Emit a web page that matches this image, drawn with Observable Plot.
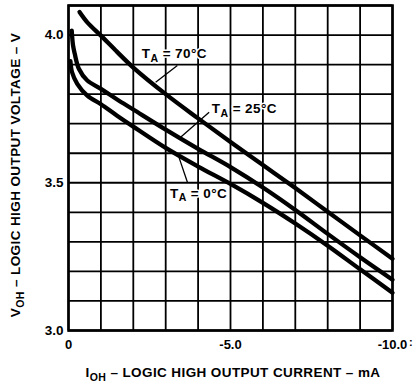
<!DOCTYPE html>
<html><head><meta charset="utf-8">
<script src="https://cdn.jsdelivr.net/npm/d3@7"></script>
<script src="https://cdn.jsdelivr.net/npm/@observablehq/plot@0.6"></script>
<style>
html,body{margin:0;padding:0;background:#fff;}
#chart svg{display:block;}
</style>
</head><body><div id="chart"></div>
<script>
// ---- data (I_OH in mA, V_OH in V) ----
const current70 = [-0.34, -0.58, -1, -1.5, -2, -3, -4, -5, -6, -7, -8, -9, -10];
const voltage70 = [4.078, 4.043, 3.998, 3.943, 3.89, 3.80, 3.718, 3.638, 3.560, 3.482, 3.402, 3.322, 3.243];
const current25 = [-0.1, -0.14, -0.19, -0.32, -0.58, -1, -1.5, -2, -3, -4, -5, -6, -7, -8, -9, -10];
const voltage25 = [4.015, 3.965, 3.938, 3.886, 3.846, 3.818, 3.782, 3.748, 3.68, 3.615, 3.553, 3.484, 3.408, 3.327, 3.248, 3.172];
const current0 = [-0.06, -0.11, -0.27, -0.58, -1, -1.5, -2, -3, -4, -5, -6, -7, -8, -9, -10];
const voltage0 = [3.912, 3.874, 3.835, 3.795, 3.766, 3.727, 3.69, 3.618, 3.555, 3.496, 3.432, 3.362, 3.287, 3.207, 3.128];
const seriesNames = ["70°C", "25°C", "0°C"];

const xTicks = [0, -5, -10];
const xTickLabels = ["0", "-5.0", "-10.0"];
const yTicks = [3.0, 3.5, 4.0];
const yTickLabels = ["3.0", "3.5", "4.0"];
const xGrid = [0, -1, -2, -3, -4, -5, -6, -7, -8, -9, -10];
const yGrid = [3.0, 3.1, 3.2, 3.3, 3.4, 3.5, 3.6, 3.7, 3.8, 3.9, 4.0, 4.1];

// annotation anchors (data units) and leader lines
const labelAnchors = [[-2.28, 3.919], [-4.44, 3.733], [-3.15, 3.448]];
const leaderLines = [
  [-2.69, 3.840, -3.36, 3.897],
  [-3.46, 3.654, -4.34, 3.739],
  [-3.41, 3.586, -3.67, 3.502]
];

// ---- build table ----
const rows = [];
[[current70, voltage70], [current25, voltage25], [current0, voltage0]].forEach(([cs, vs], k) => {
  cs.forEach((c, i) => rows.push({series: seriesNames[k], current: c, voltage: vs[i]}));
});
const links = leaderLines.map(([x1, y1, x2, y2]) => ({x1, y1, x2, y2}));

const FONT = "'Liberation Sans', Arial, Helvetica, sans-serif";

const chart = Plot.plot({
  width: 416,
  height: 385,
  marginLeft: 68,
  marginRight: 24,
  marginTop: 5,
  marginBottom: 55,
  style: {fontFamily: FONT, fontWeight: "bold", fontSize: "13px", color: "#000", background: "#fff"},
  x: {domain: [0, -10]},
  y: {domain: [3.0, 4.1]},
  marks: [
    Plot.ruleX(xGrid, {stroke: "#000", strokeWidth: 1.8}),
    Plot.ruleY(yGrid, {stroke: "#000", strokeWidth: 1.8}),
    Plot.frame({stroke: "#000", strokeWidth: 2.6}),
    Plot.axisX(xTicks, {tickSize: 0, tickPadding: 9, tickFormat: d => xTickLabels[xTicks.indexOf(d)], fontSize: 13, fontWeight: "bold", label: null}),
    Plot.axisY(yTicks, {tickSize: 0, tickPadding: 5, tickFormat: d => yTickLabels[yTicks.indexOf(d)], fontSize: 13.5, fontWeight: "bold", label: null}),
    Plot.line(rows, {x: "current", y: "voltage", z: "series", stroke: "#000", strokeWidth: 4.3, curve: "catmull-rom", strokeLinejoin: "round"}),
    Plot.link(links, {x1: "x1", y1: "y1", x2: "x2", y2: "y2", stroke: "#000", strokeWidth: 1.3})
  ]
});

document.getElementById("chart").appendChild(chart);

// ---- text with subscripts, positioned through the chart scales ----
const svg = d3.select(chart);
const sx = chart.scale("x"), sy = chart.scale("y");

function subText(g, main, sub, rest, size, spacing) {
  const t = g.append("text").attr("font-family", FONT).attr("font-weight", "bold")
    .attr("font-size", size).attr("fill", "#000").attr("text-anchor", "start")
    .style("letter-spacing", spacing + "px");
  t.append("tspan").text(main);
  t.append("tspan").attr("dy", size * 0.28).attr("font-size", size * 0.78).text(sub);
  t.append("tspan").attr("dy", -size * 0.28).text(rest);
  return t;
}

seriesNames.forEach((name, i) => {
  const [ax, ay] = labelAnchors[i];
  subText(svg, "T", "A", " = " + name, 13.5, 0.4)
    .attr("x", sx.apply(ax)).attr("y", sy.apply(ay))
    .attr("stroke", "#fff").attr("stroke-width", 3).attr("paint-order", "stroke").attr("stroke-linejoin", "round");
});

// x axis title
subText(svg, "I", "OH", " – LOGIC HIGH OUTPUT CURRENT – mA", 13.5, 0.4)
  .attr("text-anchor", "middle").attr("x", 233).attr("y", 377);

// y axis title
subText(svg, "V", "OH", " – LOGIC HIGH OUTPUT VOLTAGE – V", 13.5, 0.4)
  .attr("text-anchor", "middle")
  .attr("transform", "translate(20,175) rotate(-90)");

// stray mark at right of x axis in the original scan
svg.append("text").attr("x", 409).attr("y", 346).attr("text-anchor", "start")
  .attr("font-family", FONT).attr("font-weight", "bold").attr("font-size", 11).text(":");
</script>
</body></html>
